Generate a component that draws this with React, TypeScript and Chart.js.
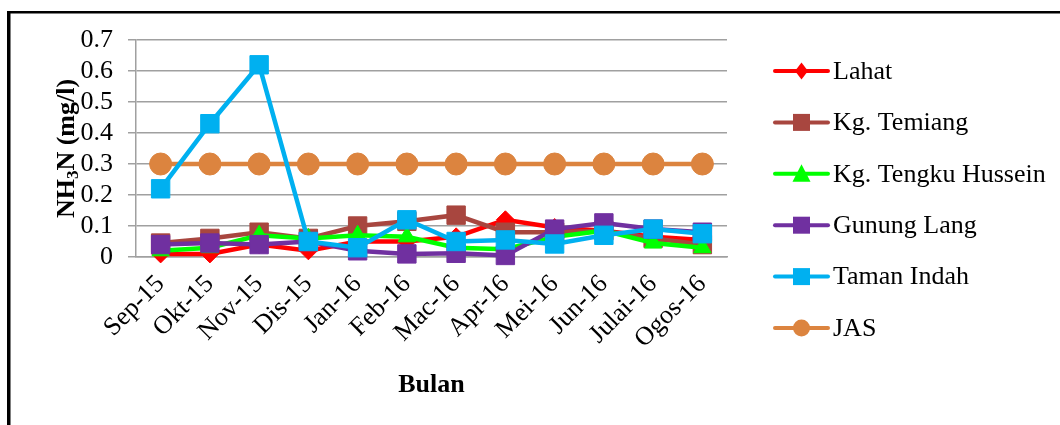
import React, { useEffect, useRef } from 'react';
import { Chart, registerables } from 'chart.js';

Chart.register(...registerables);

const months = ['Sep-15', 'Okt-15', 'Nov-15', 'Dis-15', 'Jan-16', 'Feb-16', 'Mac-16', 'Apr-16', 'Mei-16', 'Jun-16', 'Julai-16', 'Ogos-16'];
const yTicks = [0, 0.1, 0.2, 0.3, 0.4, 0.5, 0.6, 0.7];

const lahat = [0.01, 0.01, 0.04, 0.02, 0.05, 0.05, 0.065, 0.12, 0.095, 0.085, 0.065, 0.055];
const kgTemiang = [0.045, 0.06, 0.08, 0.06, 0.1, 0.115, 0.135, 0.08, 0.08, 0.085, 0.06, 0.04];
const kgTengkuHussein = [0.02, 0.03, 0.07, 0.06, 0.07, 0.065, 0.03, 0.025, 0.065, 0.085, 0.045, 0.03];
const gunungLang = [0.04, 0.045, 0.04, 0.05, 0.02, 0.01, 0.012, 0.005, 0.09, 0.11, 0.09, 0.08];
const tamanIndah = [0.22, 0.43, 0.62, 0.05, 0.03, 0.12, 0.05, 0.055, 0.042, 0.07, 0.09, 0.075];
const jas = [0.3, 0.3, 0.3, 0.3, 0.3, 0.3, 0.3, 0.3, 0.3, 0.3, 0.3, 0.3];

const seriesNames = ['Lahat', 'Kg. Temiang', 'Kg. Tengku Hussein', 'Gunung Lang', 'Taman Indah', 'JAS'];
const seriesData = [lahat, kgTemiang, kgTengkuHussein, gunungLang, tamanIndah, jas];
const seriesColors = ['#FF0000', '#A8463F', '#00FF00', '#7030A0', '#00B0F0', '#DC843F'];
const seriesStyles = ['rectRot', 'rect', 'triangle', 'rect', 'rect', 'circle'];
const seriesRadius = [9, 13, 10, 13, 13, 11];
const seriesOrder = [5, 4, 3, 2, 0, 1];

const FONT = '"Liberation Serif", "Times New Roman", serif';
const W = 1060;
const H = 425;

function drawMarker(ctx: CanvasRenderingContext2D, style: string, x: number, y: number, color: string) {
  ctx.fillStyle = color;
  ctx.beginPath();
  if (style === 'rect') {
    ctx.rect(x - 8.5, y - 8.5, 17, 17);
  } else if (style === 'rectRot') {
    ctx.moveTo(x, y - 8.5);
    ctx.lineTo(x + 6.5, y);
    ctx.lineTo(x, y + 8.5);
    ctx.lineTo(x - 6.5, y);
    ctx.closePath();
  } else if (style === 'triangle') {
    ctx.moveTo(x, y - 9.5);
    ctx.lineTo(x + 9, y + 8);
    ctx.lineTo(x - 9, y + 8);
    ctx.closePath();
  } else {
    ctx.arc(x, y, 8.5, 0, Math.PI * 2);
  }
  ctx.fill();
}

const decorPlugin = {
  id: 'decor',
  beforeDraw(chart: any) {
    const ctx = chart.ctx as CanvasRenderingContext2D;
    ctx.save();
    ctx.fillStyle = '#FFFFFF';
    ctx.fillRect(0, 0, W, H);
    ctx.fillStyle = '#000000';
    ctx.fillRect(7, 11, W - 7, 2.5);
    ctx.fillRect(7, 11, 3.5, H - 11);
    ctx.restore();
  },
  afterDraw(chart: any) {
    const ctx = chart.ctx as CanvasRenderingContext2D;
    const area = chart.chartArea;
    ctx.save();
    // x axis title
    ctx.fillStyle = '#000000';
    ctx.font = `bold 26px ${FONT}`;
    ctx.textAlign = 'center';
    ctx.textBaseline = 'alphabetic';
    ctx.fillText('Bulan', (area.left + area.right) / 2, 392);

    // y axis title with subscript
    ctx.save();
    ctx.translate(74, (area.top + area.bottom) / 2);
    ctx.rotate(-Math.PI / 2);
    ctx.textAlign = 'left';
    const big = `bold 26px ${FONT}`;
    const small = `bold 17px ${FONT}`;
    ctx.font = big;
    const w1 = ctx.measureText('NH').width;
    const w3 = ctx.measureText('N (mg/l)').width;
    ctx.font = small;
    const w2 = ctx.measureText('3').width;
    const total = w1 + w2 + w3;
    let sx = -total / 2;
    ctx.font = big;
    ctx.fillText('NH', sx, 0);
    sx += w1;
    ctx.font = small;
    ctx.fillText('3', sx, 4);
    sx += w2;
    ctx.font = big;
    ctx.fillText('N (mg/l)', sx, 0);
    ctx.restore();

    // legend
    ctx.font = `26px ${FONT}`;
    ctx.textAlign = 'left';
    ctx.textBaseline = 'middle';
    for (let i = 0; i < seriesNames.length; i++) {
      const y = 71 + i * 51.4;
      const c = seriesColors[i];
      ctx.strokeStyle = c;
      ctx.lineWidth = 4;
      ctx.lineCap = 'round';
      ctx.beginPath();
      ctx.moveTo(775, y);
      ctx.lineTo(828, y);
      ctx.stroke();
      drawMarker(ctx, seriesStyles[i], 801.5, y, c);
      ctx.fillStyle = '#000000';
      ctx.fillText(seriesNames[i], 833, y + 1);
    }
    ctx.restore();
  },
};

export default function App() {
  const canvasRef = useRef<HTMLCanvasElement | null>(null);

  useEffect(() => {
    const canvas = canvasRef.current;
    if (!canvas) return;
    const datasets = seriesNames.map((name, i) => ({
      label: name,
      data: seriesData[i],
      borderColor: seriesColors[i],
      backgroundColor: seriesColors[i],
      pointBackgroundColor: seriesColors[i],
      pointBorderColor: seriesColors[i],
      pointBorderWidth: 1,
      pointStyle: seriesStyles[i],
      pointRadius: seriesRadius[i],
      borderWidth: 4.5,
      tension: 0,
      order: seriesOrder[i],
      clip: false as any,
    }));
    const chart = new Chart(canvas, {
      type: 'line',
      data: { labels: months, datasets },
      options: {
        animation: false,
        responsive: false,
        events: [],
        layout: { padding: { left: 0, top: 40, right: W - 727, bottom: 0 } },
        plugins: {
          legend: { display: false },
          tooltip: { enabled: false },
          title: { display: false },
        },
        scales: {
          x: {
            offset: true,
            grid: { display: false, drawTicks: true, tickLength: 8 },
            border: { display: true, color: '#A0A0A0', width: 1.5 },
            ticks: {
              color: '#000000',
              font: { family: FONT, size: 26 },
              minRotation: 45,
              maxRotation: 45,
              autoSkip: false,
              padding: 4,
            },
            afterFit(scale: any) {
              scale.height = H - 257;
            },
          },
          y: {
            min: 0,
            max: 0.7,
            afterBuildTicks(scale: any) {
              scale.ticks = yTicks.map((v) => ({ value: v }));
            },
            grid: { color: '#A0A0A0', lineWidth: 1.5, drawTicks: true, tickLength: 8, tickColor: '#A0A0A0' },
            border: { display: true, color: '#A0A0A0', width: 1.5 },
            ticks: {
              color: '#000000',
              font: { family: FONT, size: 26, lineHeight: 1 },
              padding: 15,
              autoSkip: false,
              callback: (v: any) => String(Math.round(Number(v) * 10) / 10),
            },
            afterFit(scale: any) {
              scale.width = 136;
            },
          },
        },
      },
      plugins: [decorPlugin],
    } as any);
    return () => chart.destroy();
  }, []);

  return (
    <div style={{ position: 'absolute', left: 0, top: 0, width: W, height: H, background: '#fff' }}>
      <canvas ref={canvasRef} width={W} height={H} style={{ display: 'block', width: W, height: H }} />
    </div>
  );
}
